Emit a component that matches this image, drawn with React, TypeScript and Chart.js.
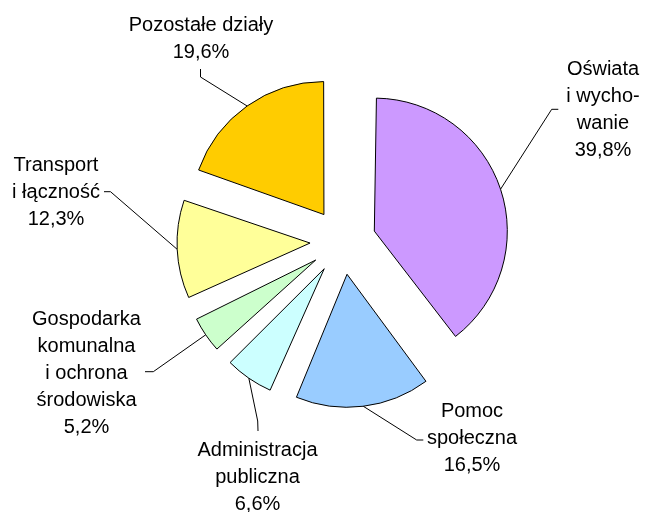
import React, { useEffect, useRef } from "react";
import { Chart, registerables } from "chart.js";

Chart.register(...registerables);

// ---- data ----
const categories = [
  "Oświata i wychowanie",
  "Pomoc społeczna",
  "Administracja publiczna",
  "Gospodarka komunalna i ochrona środowiska",
  "Transport i łączność",
  "Pozostałe działy",
];
const labelLines = [
  ["Oświata", "i wycho-", "wanie"],
  ["Pomoc", "społeczna"],
  ["Administracja", "publiczna"],
  ["Gospodarka", "komunalna", "i ochrona", "środowiska"],
  ["Transport", "i łączność"],
  ["Pozostałe działy"],
];
const shares = [39.8, 16.5, 6.6, 5.2, 12.3, 19.6];

// ---- styles / layout ----
const colors = ["#CC99FF", "#99CCFF", "#CCFFFF", "#CCFFCC", "#FFFF99", "#FFCC00"];
const EXPLODE = 33;
const RADIUS = 133;
const FONT = '20px "Liberation Sans", Arial, sans-serif';
const LINE_H = 27;
// label block centre x, first baseline y, leader elbow and leader end
const labelLayout = [
  { cx: 603, top: 75, elbow: [551.7, 109.3], end: [558.3, 109.3] },
  { cx: 472, top: 417.3, elbow: [416.7, 440], end: [423.3, 440] },
  { cx: 257.5, top: 456, elbow: [257.7, 421], end: [258, 431] },
  { cx: 86.5, top: 325, elbow: [153.3, 371.7], end: [145, 371.7] },
  { cx: 56, top: 170.7, elbow: [110.5, 191.7], end: [104, 191.7] },
  { cx: 201, top: 31, elbow: [200.5, 77], end: [200.5, 69] },
];

const fmt = (v: number) => v.toFixed(1).replace(".", ",") + "%";

// Chart.js 4 translates an arc by offset/4 and also enlarges its radius by (offset/4)*fix;
// keep every slice at the same radius by shrinking the element radius by that amount.
const radiusFix = {
  id: "radiusFix",
  beforeDatasetsDraw(chart: any) {
    const meta = chart.getDatasetMeta(0);
    const base = meta.controller.outerRadius;
    meta.data.forEach((arc: any) => {
      const fix = 1 - Math.sin(Math.min(Math.PI, arc.circumference || 0));
      arc.outerRadius = base - EXPLODE * fix;
    });
  },
};

const labelPlugin = {
  id: "outerLabels",
  afterDraw(chart: any) {
    const ctx = chart.ctx;
    const meta = chart.getDatasetMeta(0);
    const base = meta.controller.outerRadius;
    ctx.save();
    ctx.strokeStyle = "#000";
    ctx.lineWidth = 1;
    ctx.fillStyle = "#000";
    ctx.font = FONT;
    ctx.textAlign = "center";
    ctx.textBaseline = "alphabetic";
    meta.data.forEach((arc: any, i: number) => {
      const mid = (arc.startAngle + arc.endAngle) / 2;
      const r = base + EXPLODE;
      const sx = arc.x + Math.cos(mid) * r;
      const sy = arc.y + Math.sin(mid) * r;
      const L = labelLayout[i];
      ctx.beginPath();
      ctx.moveTo(sx, sy);
      ctx.lineTo(L.elbow[0], L.elbow[1]);
      ctx.lineTo(L.end[0], L.end[1]);
      ctx.stroke();
      const lines = [...labelLines[i], fmt(shares[i])];
      lines.forEach((t, k) => {
        ctx.fillText(t, L.cx, L.top + k * LINE_H);
      });
    });
    ctx.restore();
  },
};

export default function App() {
  const ref = useRef<HTMLCanvasElement | null>(null);
  useEffect(() => {
    if (!ref.current) return;
    const chart = new Chart(ref.current, {
      type: "pie",
      data: {
        labels: categories,
        datasets: [
          {
            data: shares,
            backgroundColor: colors,
            borderColor: "#000",
            borderWidth: 1,
            offset: 4 * EXPLODE,
            hoverOffset: 0,
          },
        ],
      },
      options: {
        responsive: false,
        animation: false,
        radius: RADIUS,
        layout: { padding: { left: 41, right: 0, top: 0, bottom: 29 } },
        plugins: {
          legend: { display: false },
          tooltip: { enabled: false },
        },
        events: [],
      } as any,
      plugins: [radiusFix, labelPlugin],
    });
    return () => chart.destroy();
  }, []);
  return (
    <div style={{ position: "absolute", left: 0, top: 0, width: 645, height: 512, background: "#fff" }}>
      <canvas ref={ref} width={645} height={512} style={{ width: 645, height: 512, display: "block" }} />
    </div>
  );
}
